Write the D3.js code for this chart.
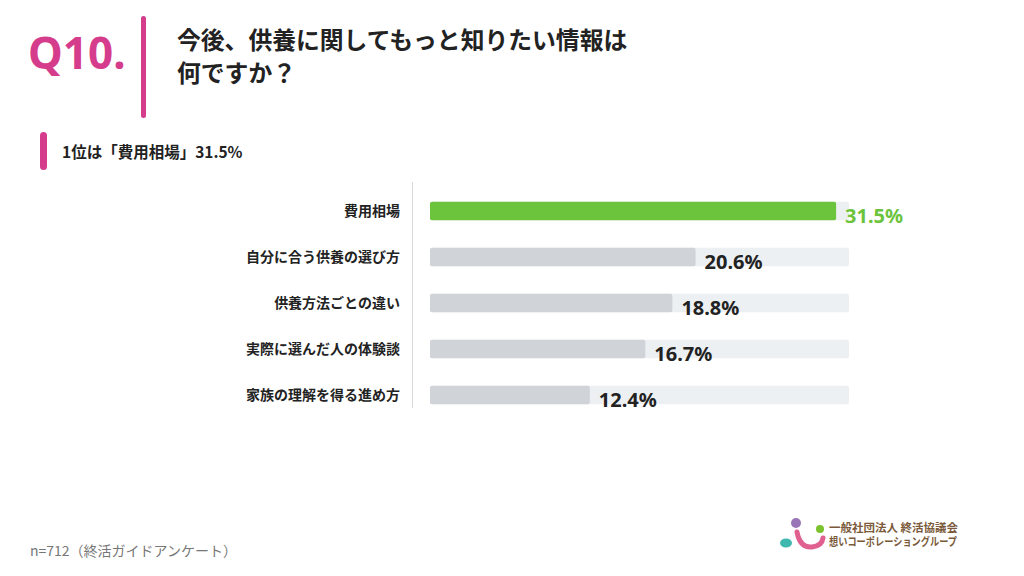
<!DOCTYPE html>
<html>
<head>
<meta charset="utf-8">
<script src="https://d3js.org/d3.v7.min.js"></script>
<style>
  body { margin: 0; background: #fff; }
  svg text { font-family: "Noto Sans CJK JP", "Noto Sans", sans-serif; }
</style>
</head>
<body>
<svg id="chart" width="1024" height="576"></svg>
<script>
// data
var categories = ["費用相場", "自分に合う供養の選び方", "供養方法ごとの違い", "実際に選んだ人の体験談", "家族の理解を得る進め方"];
var values = [31.5, 20.6, 18.8, 16.7, 12.4];
var trackMax = 32.5;

var svg = d3.select("#chart");

// header
svg.append("text").attr("x", 28).attr("y", 69)
    .attr("font-size", 44).attr("font-weight", 700).attr("fill", "#d63c8c")
    .style("font-family", "'Noto Sans', sans-serif")
    .text("Q10.");
svg.append("rect").attr("x", 141).attr("y", 16).attr("width", 5).attr("height", 102)
    .attr("rx", 2.5).attr("fill", "#d63c8c");
svg.append("text").attr("x", 177).attr("y", 49)
    .attr("font-size", 23.8).attr("font-weight", 700).attr("fill", "#222")
    .text("今後、供養に関してもっと知りたい情報は");
svg.append("text").attr("x", 177).attr("y", 82)
    .attr("font-size", 23.8).attr("font-weight", 700).attr("fill", "#222")
    .text("何ですか？");

svg.append("rect").attr("x", 40).attr("y", 132).attr("width", 7).attr("height", 38)
    .attr("rx", 3.5).attr("fill", "#d63c8c");
svg.append("text").attr("x", 62).attr("y", 158)
    .attr("font-size", 15.5).attr("font-weight", 700).attr("fill", "#222")
    .text("1位は「費用相場」31.5%");

// chart
var x = d3.scaleLinear().domain([0, trackMax]).range([430, 849]);
var y = d3.scaleBand().domain(categories).range([188, 418]).paddingInner(0.6).paddingOuter(0.3);

svg.append("line").attr("x1", 412.5).attr("x2", 412.5).attr("y1", 182).attr("y2", 408)
    .attr("stroke", "#d9d9d9").attr("stroke-width", 1);

var rows = svg.selectAll(".row").data(categories).enter().append("g").attr("class", "row");

rows.append("rect")
    .attr("x", x(0)).attr("y", function(d) { return y(d); })
    .attr("width", x(trackMax) - x(0)).attr("height", y.bandwidth())
    .attr("rx", 2).attr("fill", "#edf0f3");

rows.append("rect")
    .attr("x", x(0)).attr("y", function(d) { return y(d); })
    .attr("width", function(d, i) { return x(values[i]) - x(0); })
    .attr("height", y.bandwidth())
    .attr("rx", 2).attr("fill", function(d, i) { return i === 0 ? "#6cc33c" : "#d0d3d8"; });

rows.append("text")
    .attr("x", 400).attr("y", function(d) { return y(d) + y.bandwidth() / 2 + 5; })
    .attr("text-anchor", "end").attr("font-size", 14).attr("font-weight", 700).attr("fill", "#222")
    .text(function(d) { return d; });

rows.append("text")
    .attr("x", function(d, i) { return x(values[i]) + 9; })
    .attr("y", function(d) { return y(d) + y.bandwidth() / 2 + 12; })
    .attr("font-size", 20).attr("font-weight", 700)
    .attr("fill", function(d, i) { return i === 0 ? "#6cc33c" : "#222"; })
    .style("font-family", "'Noto Sans', sans-serif")
    .text(function(d, i) { return values[i].toFixed(1) + "%"; });

// footnote
svg.append("text").attr("x", 30).attr("y", 556)
    .attr("font-size", 14).attr("fill", "#777")
    .text("n=712（終活ガイドアンケート）");

// logo
var logo = svg.append("g");
logo.append("path").attr("d", "M797,532 Q800,548 812,547 Q822,546 823,538")
    .attr("fill", "none").attr("stroke", "#e0608f").attr("stroke-width", 5).attr("stroke-linecap", "round");
logo.append("circle").attr("cx", 796).attr("cy", 523).attr("r", 5).attr("fill", "#9a75b8");
logo.append("circle").attr("cx", 820).attr("cy", 529).attr("r", 4).attr("fill", "#7cc22e");
logo.append("ellipse").attr("cx", 786).attr("cy", 543).attr("rx", 6).attr("ry", 4.5).attr("fill", "#3fb8b0");
logo.append("text").attr("x", 829).attr("y", 532).attr("font-size", 11).attr("font-weight", 700)
    .attr("fill", "#7a5a3a").attr("textLength", 129).attr("lengthAdjust", "spacingAndGlyphs")
    .text("一般社団法人 終活協議会");
logo.append("text").attr("x", 829).attr("y", 546).attr("font-size", 11).attr("font-weight", 700)
    .attr("fill", "#7a5a3a").attr("textLength", 128).attr("lengthAdjust", "spacingAndGlyphs")
    .text("想いコーポレーショングループ");
</script>
</body>
</html>
